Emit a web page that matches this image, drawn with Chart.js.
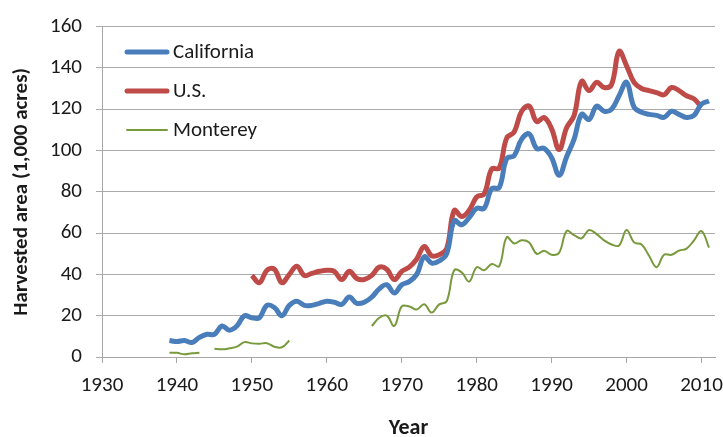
<!DOCTYPE html>
<html>
<head>
<meta charset="utf-8">
<script src="https://cdn.jsdelivr.net/npm/chart.js@4.4.1/dist/chart.umd.min.js"></script>
<style>
  html, body { margin: 0; padding: 0; background: #fff; }
  #wrap { width: 723px; height: 437px; }
</style>
</head>
<body>
<div id="wrap"><canvas id="chart" width="723" height="437"></canvas></div>
<script>
// harvested area, 1,000 acres
var years = [];
for (var yr = 1939; yr <= 2011; yr++) years.push(yr);

var xTicks = [1930, 1940, 1950, 1960, 1970, 1980, 1990, 2000, 2010];

var california = [
  8, 7.5, 8, 7, 9.5, 11, 11, 15, 13, 15,          // 1939-1948
  20, 19, 19, 25, 24, 20, 25, 27, 25, 25,         // 1949-1958
  26, 27, 26.5, 25.5, 29, 26, 26.5, 29, 33, 35,   // 1959-1968
  31, 35, 36.5, 40, 48.5, 45.5, 46.5, 50, 66, 64, // 1969-1978
  67.5, 72, 72, 81.5, 82, 96, 97.5, 105.5, 108, 101, // 1979-1988
  101, 96.5, 88, 97, 105.5, 117.5, 115, 121.5, 119, 120, // 1989-1998
  126.5, 133, 121, 118.5, 117.5, 117, 116, 119, 117.5, 116, // 1999-2008
  117, 122.5, 124                                 // 2009-2011
];

var us = [
  null, null, null, null, null, null, null, null, null, null, null, // 1939-1949
  39.5, 36, 42, 42.5, 36, 40, 44, 39.5, 40.5, 41.5, // 1950-1959
  42, 41.5, 37.5, 41.5, 38, 37.5, 39.5, 43.5, 42.5, 37.5, // 1960-1969
  41.5, 43.5, 47.5, 53.5, 49, 49.5, 52.5, 71, 68, 71, // 1970-1979
  77.5, 79, 91, 91.5, 106, 109, 119, 121.5, 114, 116, // 1980-1989
  110.5, 100.5, 111, 117, 133.5, 129, 133, 130.5, 132, 148, // 1990-1999
  141, 133, 130, 129, 128, 127, 130.5, 129, 126.5, 125, // 2000-2009
  121, null                                       // 2010-2011
];

var monterey = [
  2, 2, 1.3, 1.8, 2, null, 4, 3.7, 4.2, 5, 7.2,   // 1939-1949
  6.6, 6.4, 6.7, 5, 4.7, 8, null, null, null, null, // 1950-1959
  null, null, null, null, null, null, 15, 19, 20, 15, // 1960-1969
  24.5, 24.5, 23, 25.5, 21.5, 25.5, 27, 42, 41, 36.5, // 1970-1979
  43.5, 42, 45, 44, 58, 55, 56.5, 55.5, 50, 51.5, // 1980-1989
  49.5, 50.5, 61, 59, 57.5, 61.5, 59.5, 56.5, 54.5, 54, // 1990-1999
  61.5, 55.5, 54.5, 49, 43.5, 49.5, 49.5, 51.5, 52.5, 56.5, // 2000-2009
  61, 53                                          // 2010-2011
];

var seriesNames = ['California', 'U.S.', 'Monterey'];
var seriesColors = ['#4a7ebb', '#be4b48', '#789a3c'];
var seriesWidths = [5, 5, 2];

function toPoints(vals) {
  return years.map(function (y, i) { return { x: y, y: vals[i] }; });
}

var fontFam = "Carlito, 'Liberation Sans', Arial, sans-serif";

// legend drawn inside the plot, stacked
var insideLegend = {
  id: 'insideLegend',
  afterDraw: function (chart) {
    var ctx = chart.ctx;
    ctx.save();
    ctx.font = '21px ' + fontFam;
    ctx.textBaseline = 'middle';
    ctx.textAlign = 'left';
    chart.data.datasets.forEach(function (ds, i) {
      var y = 52 + i * 39;
      ctx.strokeStyle = ds.borderColor;
      ctx.lineWidth = ds.borderWidth;
      ctx.lineCap = 'round';
      ctx.beginPath();
      ctx.moveTo(127, y);
      ctx.lineTo(167, y);
      ctx.stroke();
      ctx.fillStyle = '#1a1a1a';
      ctx.fillText(ds.label, 173, y + 1);
    });
    ctx.restore();
  }
};

var datasets = [california, us, monterey].map(function (vals, i) {
  return {
    label: seriesNames[i],
    data: toPoints(vals),
    borderColor: seriesColors[i],
    backgroundColor: seriesColors[i],
    borderWidth: seriesWidths[i],
    pointRadius: 0,
    tension: 0.4,
    spanGaps: false,
    fill: false
  };
});

var ctx = document.getElementById('chart').getContext('2d');
new Chart(ctx, {
  type: 'line',
  data: { datasets: datasets },
  plugins: [insideLegend],
  options: {
    responsive: false,
    animation: false,
    layout: { padding: { top: 25, right: 8, bottom: 0, left: 0 } },
    plugins: {
      legend: { display: false },
      tooltip: { enabled: false }
    },
    scales: {
      x: {
        type: 'linear',
        min: 1930,
        max: 2011.8,
        bounds: 'data',
        afterBuildTicks: function (scale) {
          scale.ticks = xTicks.map(function (v) { return { value: v }; });
        },
        afterFit: function (scale) {
          scale.height = 80;
          scale.paddingLeft = 0;
          scale.paddingRight = 0;
        },
        grid: {
          drawOnChartArea: false,
          tickLength: 6,
          color: '#a6a6a6'
        },
        border: { color: '#a6a6a6', width: 1 },
        ticks: {
          autoSkip: false,
          maxRotation: 0,
          padding: 10,
          color: '#1a1a1a',
          font: { family: fontFam, size: 21 },
          callback: function (v) { return String(v); }
        },
        title: {
          display: true,
          text: 'Year',
          color: '#1a1a1a',
          font: { family: fontFam, size: 22, weight: 'bold', lineHeight: 0.8 },
          padding: { top: 0, bottom: 0 }
        }
      },
      y: {
        min: 0,
        max: 160,
        afterFit: function (scale) { scale.width = 102; },
        grid: {
          color: '#ababab',
          lineWidth: 1,
          tickLength: 6
        },
        border: { color: '#a6a6a6', width: 1 },
        ticks: {
          stepSize: 20,
          padding: 14,
          color: '#1a1a1a',
          font: { family: fontFam, size: 21 }
        },
        title: {
          display: true,
          text: 'Harvested area (1,000 acres)',
          color: '#1a1a1a',
          font: { family: fontFam, size: 21, weight: 'bold' },
          padding: { top: 9, bottom: 0 }
        }
      }
    }
  }
});
</script>
</body>
</html>
